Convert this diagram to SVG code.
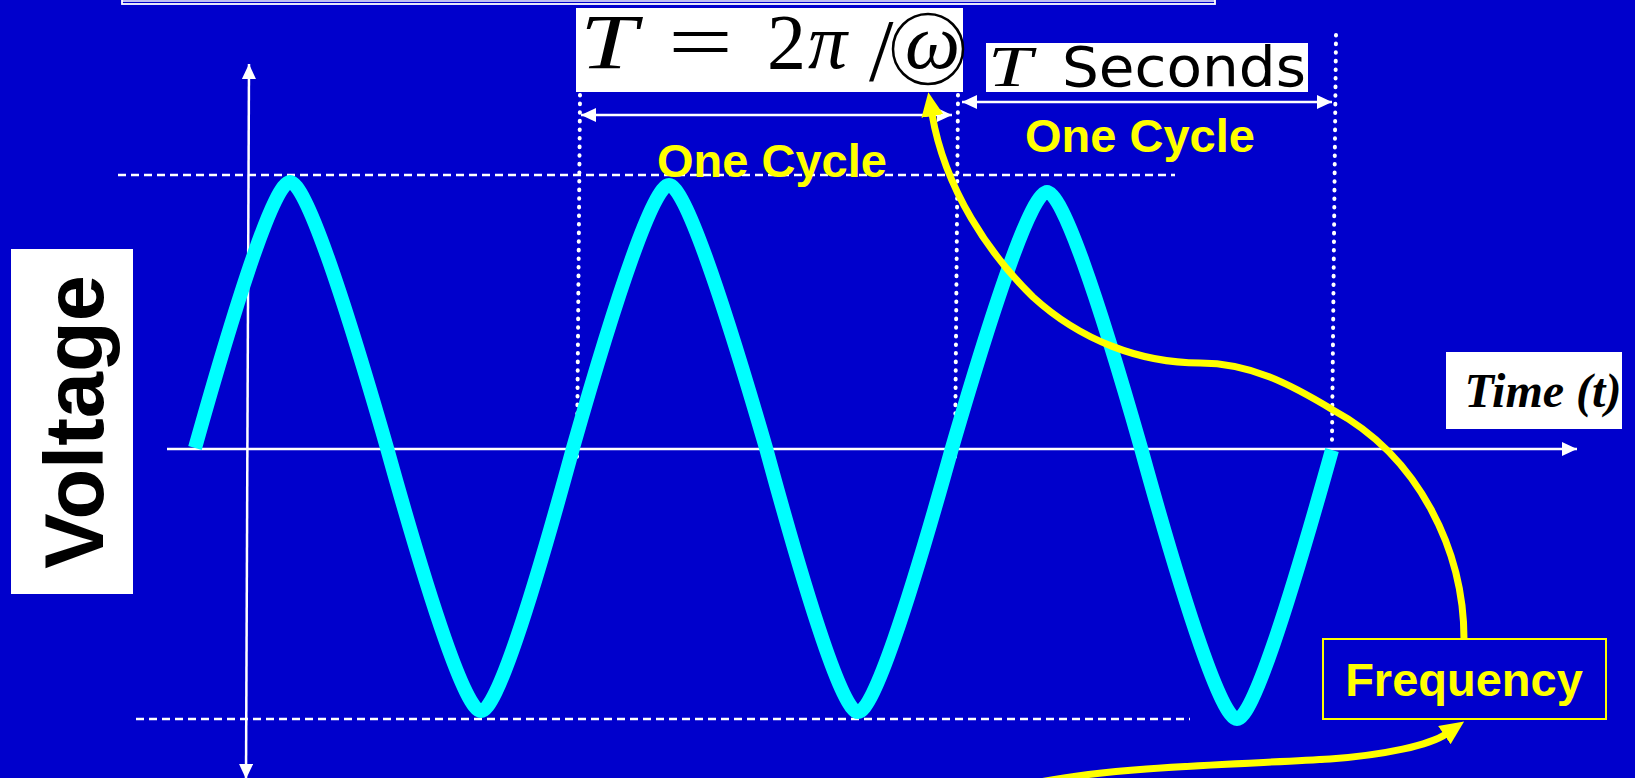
<svg xmlns="http://www.w3.org/2000/svg" width="1635" height="778" viewBox="0 0 1635 778">
<style>
.wline{stroke:#FFFFFF;stroke-width:2.5;fill:none}
.dash{stroke:#FFFFFF;stroke-width:2.5;stroke-dasharray:8 5;fill:none}
.dot{stroke:#FFFFFF;stroke-width:4;stroke-linecap:round;stroke-dasharray:0.6 8;fill:none}
.yline{stroke:#FFFF00;stroke-width:7;fill:none}
.wave{stroke:#00FFFF;stroke-width:14;fill:none;stroke-linejoin:round;stroke-linecap:butt}
.box{fill:#FFFFFF}
.ylab{font-family:"Liberation Sans",Arial,sans-serif;font-weight:bold;font-size:47px;fill:#FFFF00}
.serif{font-family:"Liberation Serif","Times New Roman",serif;fill:#000000}
</style>
<defs>
<marker id="wa" viewBox="0 0 15 14" refX="15" refY="7" markerWidth="15" markerHeight="14" markerUnits="userSpaceOnUse" orient="auto-start-reverse">
<path d="M0,0 L15,7 L0,14 z" fill="#FFFFFF"/>
</marker>
<marker id="ya" viewBox="0 0 24 22" refX="2" refY="11" markerWidth="24" markerHeight="22" markerUnits="userSpaceOnUse" orient="auto">
<path d="M0,0 L24,11 L0,22 z" fill="#FFFF00"/>
</marker>
</defs>
<rect x="0" y="0" width="1635" height="778" fill="#0000CC"/>

<g id="title-frame">
<rect x="122" y="-10" width="1093" height="14" fill="none" stroke="#FFFFFF" stroke-width="1.8"/>
<line x1="122" y1="1" x2="1215" y2="1" stroke="#FFFFFF" stroke-width="1.5"/>
</g>

<g id="guides">
<line class="dash" x1="118" y1="175" x2="1175" y2="175"/>
<line class="dash" x1="136" y1="719" x2="1190" y2="719"/>
<line class="dot" x1="580" y1="95" x2="577" y2="457"/>
<line class="dot" x1="958" y1="95" x2="955" y2="458"/>
<line class="dot" x1="1336" y1="35" x2="1332" y2="440"/>
</g>

<g id="axes">
<line class="wline" x1="246" y1="779" x2="249" y2="64" marker-start="url(#wa)" marker-end="url(#wa)"/>
<line class="wline" x1="167" y1="449" x2="1577" y2="449" marker-end="url(#wa)"/>
</g>

<g id="wave">
<path class="wave" d="M195,448 C240,288 275,182 290,182 C305,182 341,288 387,448 C431,606 466,711 481,711 C496,711 530,606 573,448 C618,290 654,185 669,185 C684,185 720,290 766,448 C809,606 843,712 858,712 C873,712 908,606 952,448 C997,294 1032,192 1047,192 C1062,192 1097,294 1141,448 C1186,611 1222,719 1237,719 C1252,719 1287,611 1332,450"/>
</g>

<g id="connectors">
<line class="wline" stroke-width="2" x1="581" y1="115" x2="952" y2="115" marker-start="url(#wa)" marker-end="url(#wa)"/>
<line class="wline" stroke-width="2" x1="962" y1="102" x2="1332" y2="102" marker-start="url(#wa)" marker-end="url(#wa)"/>
<path class="yline" d="M1464,639 C1464,552 1420,457 1333,410 C1290,384 1250,363 1200,363 C1140,363 1080,340 1033,297 C990,255 945,190 932,114" marker-end="url(#ya)"/>
<path class="yline" d="M1040,782 C1120,766 1250,764 1330,759 C1385,755 1430,745 1446,734" marker-end="url(#ya)"/>
</g>

<g id="formula">
<rect class="box" x="576" y="8" width="387" height="84"/>
<text class="serif" x="580" y="68" font-size="78" font-style="italic" textLength="57" lengthAdjust="spacingAndGlyphs">T</text>
<text class="serif" x="668" y="68" font-size="78" textLength="65" lengthAdjust="spacingAndGlyphs">=</text>
<text class="serif" x="767" y="68" font-size="78">2</text>
<text class="serif" x="808" y="68" font-size="78" font-style="italic">π</text>
<text class="serif" x="869" y="80" font-size="88">/</text>
<circle cx="928" cy="49" r="35" fill="none" stroke="#000000" stroke-width="2.5"/>
<text class="serif" x="905" y="68" font-size="78" font-style="italic">ω</text>
</g>

<g id="t-seconds">
<rect class="box" x="986" y="43" width="322" height="49"/>
<text class="serif" x="988" y="86" font-size="56" font-style="italic" textLength="44" lengthAdjust="spacingAndGlyphs">T</text>
<text x="1062" y="86" font-family="'DejaVu Sans',sans-serif" font-size="56" fill="#000000" textLength="244" lengthAdjust="spacingAndGlyphs">Seconds</text>
</g>

<g id="one-cycle-1">
<text class="ylab" x="772" y="177" text-anchor="middle">One Cycle</text>
</g>
<g id="one-cycle-2">
<text class="ylab" x="1140" y="152" text-anchor="middle">One Cycle</text>
</g>

<g id="voltage-label">
<rect class="box" x="11" y="249" width="122" height="345"/>
<text transform="translate(103,422) rotate(-90)" text-anchor="middle" font-family="'Liberation Sans',Arial,sans-serif" font-weight="bold" font-size="83" fill="#000000">Voltage</text>
</g>

<g id="time-label">
<rect class="box" x="1446" y="352" width="176" height="77"/>
<text class="serif" x="1543" y="407" text-anchor="middle" font-size="48" font-weight="bold" font-style="italic">Time (t)</text>
</g>

<g id="frequency">
<rect x="1323" y="639" width="283" height="80" fill="none" stroke="#FFFF00" stroke-width="2"/>
<text class="ylab" x="1464" y="696" text-anchor="middle">Frequency</text>
</g>
</svg>
